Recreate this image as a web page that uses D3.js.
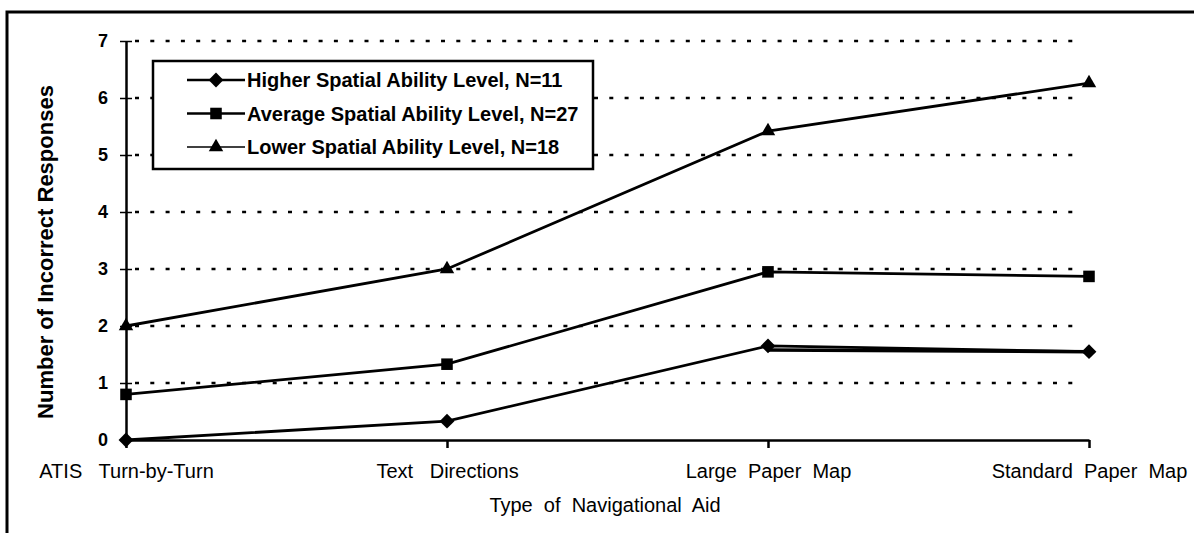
<!DOCTYPE html>
<html lang="en">
<head>
    <meta charset="UTF-8">
    <title>Incorrect Responses by Navigational Aid</title>
    <script src="https://d3js.org/d3.v7.min.js"></script>
    <style>
        body {
            margin: 0;
            background: #fff;
            font-family: "Liberation Sans", Arial, sans-serif;
        }

        text {
            white-space: pre;
        }
    </style>
</head>
<body>
<div id="chart"></div>

<script>
    // Categories on the x axis (double spaces kept as in the original)
    const categories = ["ATIS   Turn-by-Turn", "Text   Directions", "Large  Paper  Map", "Standard  Paper  Map"];

    // Number of incorrect responses
    const higher = [0, 0.33, 1.65, 1.55];
    const average = [0.8, 1.33, 2.95, 2.87];
    const lower = [2, 3, 5.42, 6.26];
    // the higher group shows a second stroke between the two paper maps
    const higherExtra = [null, null, 1.58, 1.55];

    const yTicks = [0, 1, 2, 3, 4, 5, 6, 7];
    const legendLabels = [
        "Higher Spatial Ability Level, N=11",
        "Average Spatial Ability Level, N=27",
        "Lower Spatial Ability Level, N=18"
    ];

    const width = 1194;
    const height = 533;
    const margin = {top: 41, right: 105, bottom: 93, left: 126};
    const font = "'Liberation Sans', Arial, sans-serif";

    const svg = d3.select("#chart").append("svg")
        .attr("width", width)
        .attr("height", height);

    // frame (only top and left edges are visible in the scan)
    svg.append("path")
        .attr("d", `M7,${height} V12 H${width}`)
        .attr("fill", "none")
        .attr("stroke", "#000")
        .attr("stroke-width", 3);

    const x = d3.scalePoint()
        .domain(categories)
        .range([margin.left, width - margin.right]);

    const y = d3.scaleLinear()
        .domain([0, 7])
        .range([height - margin.bottom, margin.top]);

    // dotted gridlines
    svg.append("g")
        .selectAll("line")
        .data(yTicks.filter(d => d > 0))
        .join("line")
        .attr("x1", margin.left + 9)
        .attr("x2", x(categories[3]) - 10)
        .attr("y1", d => y(d))
        .attr("y2", d => y(d))
        .attr("stroke", "#000")
        .attr("stroke-width", 2.5)
        .attr("stroke-dasharray", "4,11.3");

    // y axis
    const yAxis = svg.append("g")
        .attr("transform", `translate(${margin.left},0)`)
        .call(d3.axisLeft(y).tickValues(yTicks).tickFormat(d3.format("d"))
            .tickSize(6).tickPadding(12).tickSizeOuter(0));
    yAxis.select(".domain").attr("stroke-width", 2.5);
    yAxis.selectAll(".tick line").attr("x2", 6).attr("x1", -6).attr("stroke-width", 1.5);
    yAxis.selectAll(".tick text")
        .attr("font-family", font)
        .attr("font-size", 18)
        .attr("font-weight", "bold")
        .attr("fill", "#000");

    // x axis
    const xAxis = svg.append("g")
        .attr("transform", `translate(0,${y(0)})`)
        .call(d3.axisBottom(x).tickSize(8).tickPadding(16).tickSizeOuter(0));
    xAxis.select(".domain").attr("stroke-width", 2.5);
    xAxis.selectAll(".tick line").attr("stroke-width", 2.5);
    xAxis.selectAll(".tick text")
        .attr("font-family", font)
        .attr("font-size", 20)
        .attr("fill", "#000");

    // axis titles
    svg.append("text")
        .attr("x", 605)
        .attr("y", 512)
        .attr("text-anchor", "middle")
        .attr("font-size", 20)
        .text("Type  of  Navigational  Aid");

    svg.append("text")
        .attr("transform", "translate(53,252) rotate(-90)")
        .attr("text-anchor", "middle")
        .attr("font-size", 22)
        .attr("font-weight", "bold")
        .text("Number of Incorrect Responses");

    const line = d3.line()
        .defined(d => d.value != null)
        .x(d => x(d.cat))
        .y(d => y(d.value));

    const toPoints = arr => arr.map((v, i) => ({cat: categories[i], value: v}));

    const series = [
        {data: toPoints(higher), symbol: d3.symbolDiamond2, size: 140, label: legendLabels[0]},
        {data: toPoints(average), symbol: d3.symbolSquare2, size: 170, label: legendLabels[1]},
        {data: toPoints(lower), symbol: d3.symbolTriangle2, size: 150, label: legendLabels[2]}
    ];

    svg.append("path")
        .datum(toPoints(higherExtra))
        .attr("fill", "none")
        .attr("stroke", "#000")
        .attr("stroke-width", 3.5)
        .attr("d", line);

    series.forEach(s => {
        svg.append("path")
            .datum(s.data)
            .attr("fill", "none")
            .attr("stroke", "#000")
            .attr("stroke-width", 2.8)
            .attr("d", line);

        svg.append("g")
            .selectAll("path")
            .data(s.data)
            .join("path")
            .attr("transform", d => `translate(${x(d.cat)},${y(d.value)})`)
            .attr("d", d3.symbol().type(s.symbol).size(s.size))
            .attr("fill", "#000");
    });

    // legend
    const legend = svg.append("g").attr("transform", "translate(153,61)");
    legend.append("rect")
        .attr("width", 440)
        .attr("height", 108)
        .attr("fill", "#fff")
        .attr("stroke", "#000")
        .attr("stroke-width", 2.5);

    series.forEach((s, i) => {
        const cy = 19 + i * 33.5;
        legend.append("line")
            .attr("x1", 34)
            .attr("x2", 92)
            .attr("y1", cy)
            .attr("y2", cy)
            .attr("stroke", "#000")
            .attr("stroke-width", i === 2 ? 1.5 : 2.5);
        legend.append("path")
            .attr("transform", `translate(63,${cy})`)
            .attr("d", d3.symbol().type(s.symbol).size(s.size))
            .attr("fill", "#000");
        legend.append("text")
            .attr("x", 94)
            .attr("y", cy + 7)
            .attr("font-family", font)
            .attr("font-size", 20)
            .attr("font-weight", "bold")
            .text(s.label);
    });
</script>
</body>
</html>
